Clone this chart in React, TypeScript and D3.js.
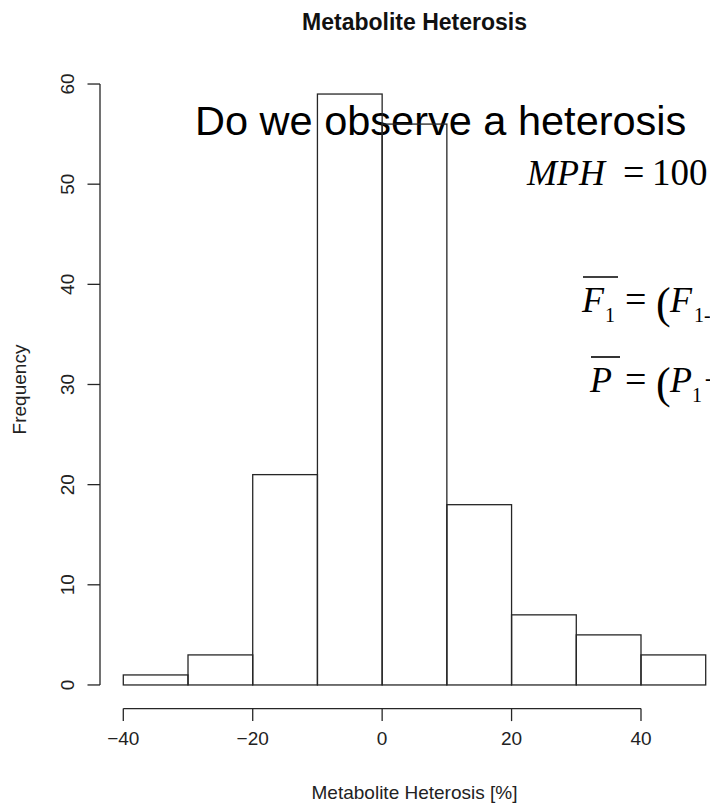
import React from "react";
import * as d3 from "d3";

// Histogram data (bin edges, counts)
const binLefts = [-40, -30, -20, -10, 0, 10, 20, 30, 40];
const binWidth = 10;
const counts = [1, 3, 21, 59, 56, 18, 7, 5, 3];
const xTicks = [-40, -20, 0, 20, 40];
const yTicks = [0, 10, 20, 30, 40, 50, 60];

const title = "Metabolite Heterosis";
const xLabel = "Metabolite Heterosis [%]";
const yLabel = "Frequency";
const overlayText = "Do we observe a heterosis";

const W = 710;
const H = 804;
const plot = { left: 100, right: 729, top: 70.4, bottom: 708.6 };

const SANS = "'Liberation Sans', Arial, Helvetica, sans-serif";
const SERIF = "'Liberation Serif', 'Times New Roman', serif";

export default function App() {
  const xmin = d3.min(binLefts)!;
  const xmax = d3.max(binLefts)! + binWidth;
  const xext = (xmax - xmin) * 0.04;
  const ymax = d3.max(counts)!;
  const yext = ymax * 0.04;

  const x = d3.scaleLinear().domain([xmin - xext, xmax + xext]).range([plot.left, plot.right]);
  const y = d3.scaleLinear().domain([-yext, ymax + yext]).range([plot.bottom, plot.top]);

  const stroke = "#262626";
  const sw = 1.3;
  const cx = (plot.left + plot.right) / 2;
  const cy = (plot.top + plot.bottom) / 2;
  const axisY = plot.bottom;
  const axisX = plot.left;
  const tickLen = 12.5;

  return (
    <svg
      width={W}
      height={H}
      style={{ position: "absolute", left: 0, top: 0, background: "#fff" }}
      fontFamily={SANS}
    >
      <rect x={0} y={0} width={W} height={H} fill="#fff" />
      {/* title */}
      <text x={cx} y={29.5} textAnchor="middle" fontSize={23} fontWeight="bold" fill="#111">
        {title}
      </text>

      {/* overlay text */}
      <text x={195} y={135} fontSize={41.5} fill="#000">
        {overlayText}
      </text>

      {/* bars */}
      {binLefts.map((b, i) => (
        <rect
          key={i}
          x={x(b)}
          y={y(counts[i])}
          width={x(b + binWidth) - x(b)}
          height={y(0) - y(counts[i])}
          fill="none"
          stroke={stroke}
          strokeWidth={sw}
        />
      ))}

      {/* x axis */}
      <line x1={x(xTicks[0])} x2={x(xTicks[xTicks.length - 1])} y1={axisY} y2={axisY} stroke={stroke} strokeWidth={sw} />
      {xTicks.map((t) => (
        <g key={t}>
          <line x1={x(t)} x2={x(t)} y1={axisY} y2={axisY + tickLen} stroke={stroke} strokeWidth={sw} />
          <text x={x(t)} y={745} textAnchor="middle" fontSize={19} fill="#222">
            {t < 0 ? "\u2212" + Math.abs(t) : String(t)}
          </text>
        </g>
      ))}

      {/* y axis */}
      <line x1={axisX} x2={axisX} y1={y(yTicks[0])} y2={y(yTicks[yTicks.length - 1])} stroke={stroke} strokeWidth={sw} />
      {yTicks.map((t) => (
        <g key={t}>
          <line x1={axisX - tickLen} x2={axisX} y1={y(t)} y2={y(t)} stroke={stroke} strokeWidth={sw} />
          <text
            transform={`translate(74,${y(t)}) rotate(-90)`}
            textAnchor="middle"
            fontSize={19}
            fill="#222"
          >
            {t}
          </text>
        </g>
      ))}

      {/* axis labels */}
      <text x={cx} y={799} textAnchor="middle" fontSize={19} fill="#222">
        {xLabel}
      </text>
      <text transform={`translate(26,${cy}) rotate(-90)`} textAnchor="middle" fontSize={19} fill="#222">
        {yLabel}
      </text>

      {/* formulas */}
      <g fontFamily={SERIF} fill="#000">
        <text x={527} y={185} fontSize={36} fontStyle="italic">MPH</text>
        <text x={623} y={185} fontSize={38}>=</text>
        <text x={652} y={185} fontSize={37}>100</text>

        <text x={582} y={312} fontSize={36} fontStyle="italic">F</text>
        <text x={605} y={322} fontSize={20}>1</text>
        <line x1={583} x2={618} y1={277} y2={277} stroke="#000" strokeWidth={1.6} />
        <text x={625} y={312} fontSize={38}>=</text>
        <text x={656} y={318} fontSize={44}>(</text>
        <text x={670} y={312} fontSize={36} fontStyle="italic">F</text>
        <text x={694} y={322} fontSize={20}>1-1</text>

        <text x={590} y={392} fontSize={36} fontStyle="italic">P</text>
        <line x1={591} x2={620} y1={357} y2={357} stroke="#000" strokeWidth={1.6} />
        <text x={625} y={392} fontSize={38}>=</text>
        <text x={656} y={398} fontSize={44}>(</text>
        <text x={670} y={392} fontSize={36} fontStyle="italic">P</text>
        <text x={692} y={402} fontSize={20}>1</text>
        <text x={704} y={392} fontSize={36}>+</text>
      </g>
    </svg>
  );
}
